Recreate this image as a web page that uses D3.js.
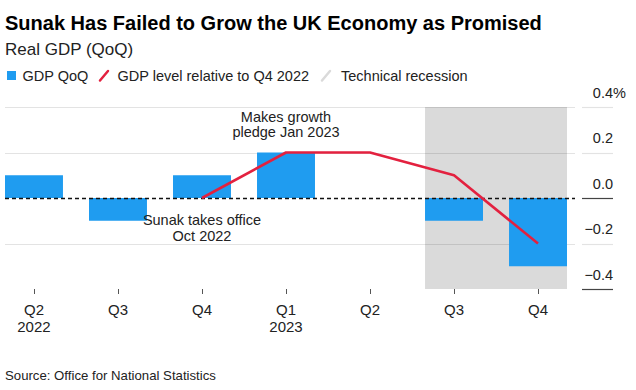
<!DOCTYPE html>
<html><head><meta charset="utf-8">
<script src="https://cdn.jsdelivr.net/npm/d3@7"></script>
<style>
html,body{margin:0;padding:0;background:#fff;}
svg{display:block;font-family:"Liberation Sans",Arial,sans-serif;}
</style></head>
<body><svg id="c" width="636" height="390"></svg>
<script>
// ---- data ----
const periods = ["2022Q2","2022Q3","2022Q4","2023Q1","2023Q2","2023Q3","2023Q4"];
const quarterLabels = ["Q2","Q3","Q4","Q1","Q2","Q3","Q4"];
const yearLabels = ["2022","","","2023","","",""];
const gdpQoQ = [0.1, -0.1, 0.1, 0.2, 0.0, -0.1, -0.3];
const gdpLevel = [null, null, 0.0, 0.2, 0.2, 0.1, -0.2];
const recessionPeriods = ["2023Q3","2023Q4"];
const yTicks = [0.4, 0.2, 0.0, -0.2, -0.4];
const yDomain = [-0.4, 0.4];
const annotations = [
  {period:"2022Q4", lines:["Sunak takes office","Oct 2022"], value:-0.1},
  {period:"2023Q1", lines:["Makes growth","pledge Jan 2023"], value:0.34}
];
const legendItems = ["GDP QoQ","GDP level relative to Q4 2022","Technical recession"];
const titleText = "Sunak Has Failed to Grow the UK Economy as Promised";
const subtitleText = "Real GDP (QoQ)";
const sourceText = "Source: Office for National Statistics";

// ---- styles / layout ----
const BLUE = "#1f9cf0", RED = "#e3213f", BAND = "#dadada";
const svg = d3.select("#c");
const plotLeft = 5, plotRight = 575;

const x = d3.scaleBand().domain(periods).range([5, 567]).paddingInner(0.31).paddingOuter(0);
const y = d3.scaleLinear().domain(yDomain).range([289, 107]);

// title, subtitle
svg.append("text").attr("x",5).attr("y",29.5).attr("font-size",20).attr("font-weight","bold")
  .attr("fill","#000").text(titleText);
svg.append("text").attr("x",5).attr("y",55).attr("font-size",17).attr("fill","#222").text(subtitleText);

// legend
const lg = svg.append("g").attr("font-size",14.5).attr("fill","#222");
lg.append("rect").attr("x",7).attr("y",71).attr("width",9).attr("height",9).attr("fill",BLUE);
lg.append("text").attr("x",22.5).attr("y",80.5).text(legendItems[0]);
lg.append("line").attr("x1",100).attr("y1",80.5).attr("x2",108).attr("y2",71)
  .attr("stroke",RED).attr("stroke-width",2.5).attr("stroke-linecap","round");
lg.append("text").attr("x",117.5).attr("y",80.5).text(legendItems[1]);
lg.append("line").attr("x1",322).attr("y1",80.5).attr("x2",330).attr("y2",71)
  .attr("stroke",BAND).attr("stroke-width",2.5).attr("stroke-linecap","round");
lg.append("text").attr("x",341).attr("y",80.5).text(legendItems[2]);

// recession band
const rx0 = x(recessionPeriods[0]);
const rx1 = x(recessionPeriods[recessionPeriods.length-1]) + x.bandwidth();
svg.append("rect").attr("x",rx0).attr("y",y(yDomain[1])).attr("width",rx1-rx0)
  .attr("height",y(yDomain[0])-y(yDomain[1])).attr("fill",BAND);

// gridlines (plot area)
svg.append("g").selectAll("line").data(yTicks.filter(t => t !== 0 && t !== yDomain[0])).join("line")
  .attr("x1",plotLeft).attr("x2",plotRight)
  .attr("y1",d => Math.round(y(d))+0.5).attr("y2",d => Math.round(y(d))+0.5)
  .attr("stroke","#000").attr("stroke-opacity",0.11).attr("stroke-width",1);

// bars
svg.append("g").selectAll("rect").data(periods.map((p,i)=>({p, v:gdpQoQ[i]})).filter(d=>d.v!==0)).join("rect")
  .attr("x",d => x(d.p)).attr("width",x.bandwidth())
  .attr("y",d => y(Math.max(0,d.v))).attr("height",d => Math.abs(y(d.v)-y(0)))
  .attr("fill",BLUE);

// zero dashed line
svg.append("line").attr("x1",plotLeft).attr("x2",plotRight)
  .attr("y1",Math.round(y(0))+0.5).attr("y2",Math.round(y(0))+0.5)
  .attr("stroke","#111").attr("stroke-width",1.3).attr("stroke-dasharray","4,3");

// red level line
const lineGen = d3.line().defined(d => d.v !== null)
  .x(d => x(d.p) + x.bandwidth()/2).y(d => y(d.v));
svg.append("path").datum(periods.map((p,i)=>({p, v:gdpLevel[i]})))
  .attr("d",lineGen).attr("fill","none").attr("stroke",RED).attr("stroke-width",2.6)
  .attr("stroke-linejoin","round");

// right y axis: short segments + labels
const fmt = d3.format(".1f");
const ya = svg.append("g");
ya.selectAll("line").data(yTicks).join("line")
  .attr("x1",582).attr("x2",613)
  .attr("y1",d => Math.round(y(d))+0.5).attr("y2",d => Math.round(y(d))+0.5)
  .attr("stroke",d => (d===0 || d===yDomain[0]) ? "#444" : "#000")
  .attr("stroke-opacity",d => (d===0 || d===yDomain[0]) ? 1 : 0.11)
  .attr("stroke-width",1.2);
ya.selectAll("text.yl").data(yTicks).join("text").attr("class","yl")
  .attr("x",613).attr("y",d => y(d)-9.5).attr("text-anchor","end")
  .attr("font-size",14.5).attr("fill","#222").text(d => fmt(d));
svg.append("text").attr("x",613).attr("y",y(yTicks[0])-9.5).attr("font-size",14.5)
  .attr("fill","#222").text("%");

// x axis ticks + labels
const xa = svg.append("g");
xa.selectAll("line").data(periods).join("line")
  .attr("x1",d => Math.round(x(d)+x.bandwidth()/2)+0.5).attr("x2",d => Math.round(x(d)+x.bandwidth()/2)+0.5)
  .attr("y1",289).attr("y2",294).attr("stroke","#555").attr("stroke-width",1);
xa.selectAll("text.q").data(periods).join("text").attr("class","q")
  .attr("x",d => x(d)+x.bandwidth()/2).attr("y",315).attr("text-anchor","middle")
  .attr("font-size",15).attr("fill","#222").text((d,i) => quarterLabels[i]);
xa.selectAll("text.yr").data(periods).join("text").attr("class","yr")
  .attr("x",d => x(d)+x.bandwidth()/2).attr("y",332).attr("text-anchor","middle")
  .attr("font-size",15).attr("fill","#222").text((d,i) => yearLabels[i]);

// annotations
const an = svg.append("g").attr("font-size",14.5).attr("fill","#222").attr("text-anchor","middle");
annotations.forEach(a => {
  const t = an.append("text").attr("x",x(a.period)+x.bandwidth()/2);
  const baseY = a.value > 0 ? 121.7 : 225;
  a.lines.forEach((l,i) => {
    t.append("tspan").attr("x",x(a.period)+x.bandwidth()/2).attr("y",baseY + i*15.7).text(l);
  });
});

// source
svg.append("text").attr("x",5).attr("y",380).attr("font-size",13.2).attr("fill","#222").text(sourceText);
</script></body></html>
